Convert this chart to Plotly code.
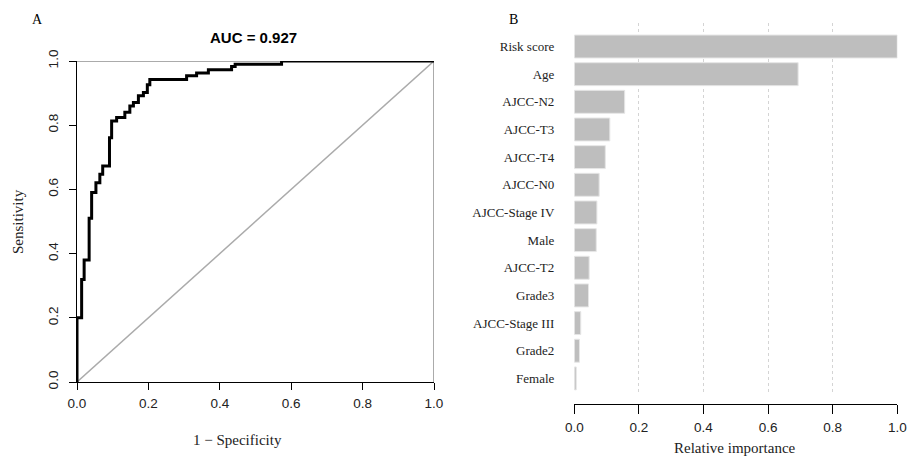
import plotly.graph_objects as go

# ROC curve points (1 - specificity, sensitivity)
fpr = [0, 0.013, 0.020, 0.034, 0.041, 0.053, 0.064, 0.072, 0.091, 0.097, 0.111, 0.134,
       0.148, 0.158, 0.172, 0.186, 0.197, 0.204, 0.307, 0.335, 0.368, 0.433, 0.443, 0.573, 1.0]
tpr = [0, 0.2, 0.319, 0.380, 0.51, 0.59, 0.621, 0.647, 0.673, 0.761, 0.813, 0.824,
       0.84, 0.86, 0.871, 0.892, 0.902, 0.926, 0.942, 0.954, 0.9625, 0.973, 0.983, 0.99, 1.0]
auc_text = "AUC = 0.927"

# Variable importance
features = ["Risk score", "Age", "AJCC-N2", "AJCC-T3", "AJCC-T4", "AJCC-N0",
            "AJCC-Stage IV", "Male", "AJCC-T2", "Grade3", "AJCC-Stage III", "Grade2", "Female"]
importance = [1.0, 0.693, 0.156, 0.110, 0.096, 0.077, 0.070, 0.068, 0.046, 0.044, 0.020, 0.016, 0.006]

ticks = [0, 0.2, 0.4, 0.6, 0.8, 1.0]
tick_text = ["0.0", "0.2", "0.4", "0.6", "0.8", "1.0"]

SERIF = "Liberation Serif, Times New Roman, serif"
SANS = "Liberation Sans, Arial, sans-serif"

fig = go.Figure()

# reference lines (diagonal + top/right frame)
fig.add_trace(go.Scatter(x=[0, 1], y=[0, 1], mode="lines",
                         line=dict(color="#ABABAB", width=1.5), xaxis="x", yaxis="y",
                         showlegend=False, hoverinfo="skip"))
fig.add_trace(go.Scatter(x=[0, 1, 1], y=[1, 1, 0], mode="lines",
                         line=dict(color="#ABABAB", width=2), xaxis="x", yaxis="y",
                         showlegend=False, hoverinfo="skip"))
# ROC curve
fig.add_trace(go.Scatter(x=fpr, y=tpr, mode="lines", line=dict(color="black", width=3, shape="vh"),
                         xaxis="x", yaxis="y", showlegend=False))

# Importance bars
fig.add_trace(go.Bar(x=importance, y=features, orientation="h",
                     marker=dict(color="#BEBEBE", line=dict(color="#E6E6E6", width=1)),
                     width=0.83, xaxis="x2", yaxis="y2", showlegend=False))

H = 457.0
W = 909.0


def label(text, x, y, font, size, angle=0, color="#222"):
    return dict(text=text, x=x / W, y=(H - y) / H, xref="paper", yref="paper",
                xanchor="center", yanchor="middle", showarrow=False, textangle=angle,
                font=dict(family=font, size=size, color=color))


fig.update_layout(
    template="none",
    width=909, height=457,
    margin=dict(l=0, r=0, t=0, b=0, autoexpand=False),
    paper_bgcolor="white", plot_bgcolor="white",
    xaxis=dict(domain=[77 / W, 434 / W], range=[0, 1], showgrid=False, zeroline=False,
               automargin=False,
               showline=True, linecolor="black", linewidth=1.3,
               ticks="outside", ticklen=7, tickcolor="black", tickwidth=1.3,
               tickvals=ticks, ticktext=tick_text, ticklabelstandoff=2,
               tickfont=dict(family=SANS, size=13.5, color="#222"), anchor="y"),
    yaxis=dict(domain=[(H - 382) / H, (H - 61) / H], range=[0, 1], showgrid=False, zeroline=False,
               automargin=False,
               showline=True, linecolor="black", linewidth=1.3,
               ticks="outside", ticklen=7, tickcolor="black", tickwidth=1.3,
               tickvals=ticks, ticktext=tick_text, tickangle=-90, ticklabelstandoff=5,
               tickfont=dict(family=SANS, size=13.5, color="#222"), anchor="x"),
    xaxis2=dict(domain=[574.3 / W, 897.3 / W], range=[0, 1], anchor="free", position=(H - 404) / H,
                automargin=False,
                showgrid=True, gridcolor="#D4D4D4", griddash="dot", gridwidth=1, zeroline=False,
                showline=True, linecolor="black", linewidth=1.3,
                ticks="outside", ticklen=9, tickcolor="black", tickwidth=1.3,
                tickvals=ticks, ticktext=tick_text, ticklabelstandoff=2,
                tickfont=dict(family=SANS, size=13.5, color="#222")),
    yaxis2=dict(domain=[(H - 395) / H, (H - 23) / H], range=[12.6, -0.85], anchor="x2",
                automargin=False,
                showgrid=False, zeroline=False, showline=False, ticks="",
                ticklabelstandoff=19,
                tickfont=dict(family=SERIF, size=13, color="#222")),
    bargap=0.17,
    annotations=[
        label("A", 37, 19, SERIF, 14, color="black"),
        label("B", 513, 19, SERIF, 14, color="black"),
        label("<b>" + auc_text + "</b>", 254, 37, SANS, 15, color="black"),
        label("1 − Specificity", 237, 440, SERIF, 15),
        label("Sensitivity", 18, 222, SERIF, 15, angle=-90),
        label("Relative importance", 735, 448, SERIF, 15),
    ],
)

fig.write_html("out.html")
